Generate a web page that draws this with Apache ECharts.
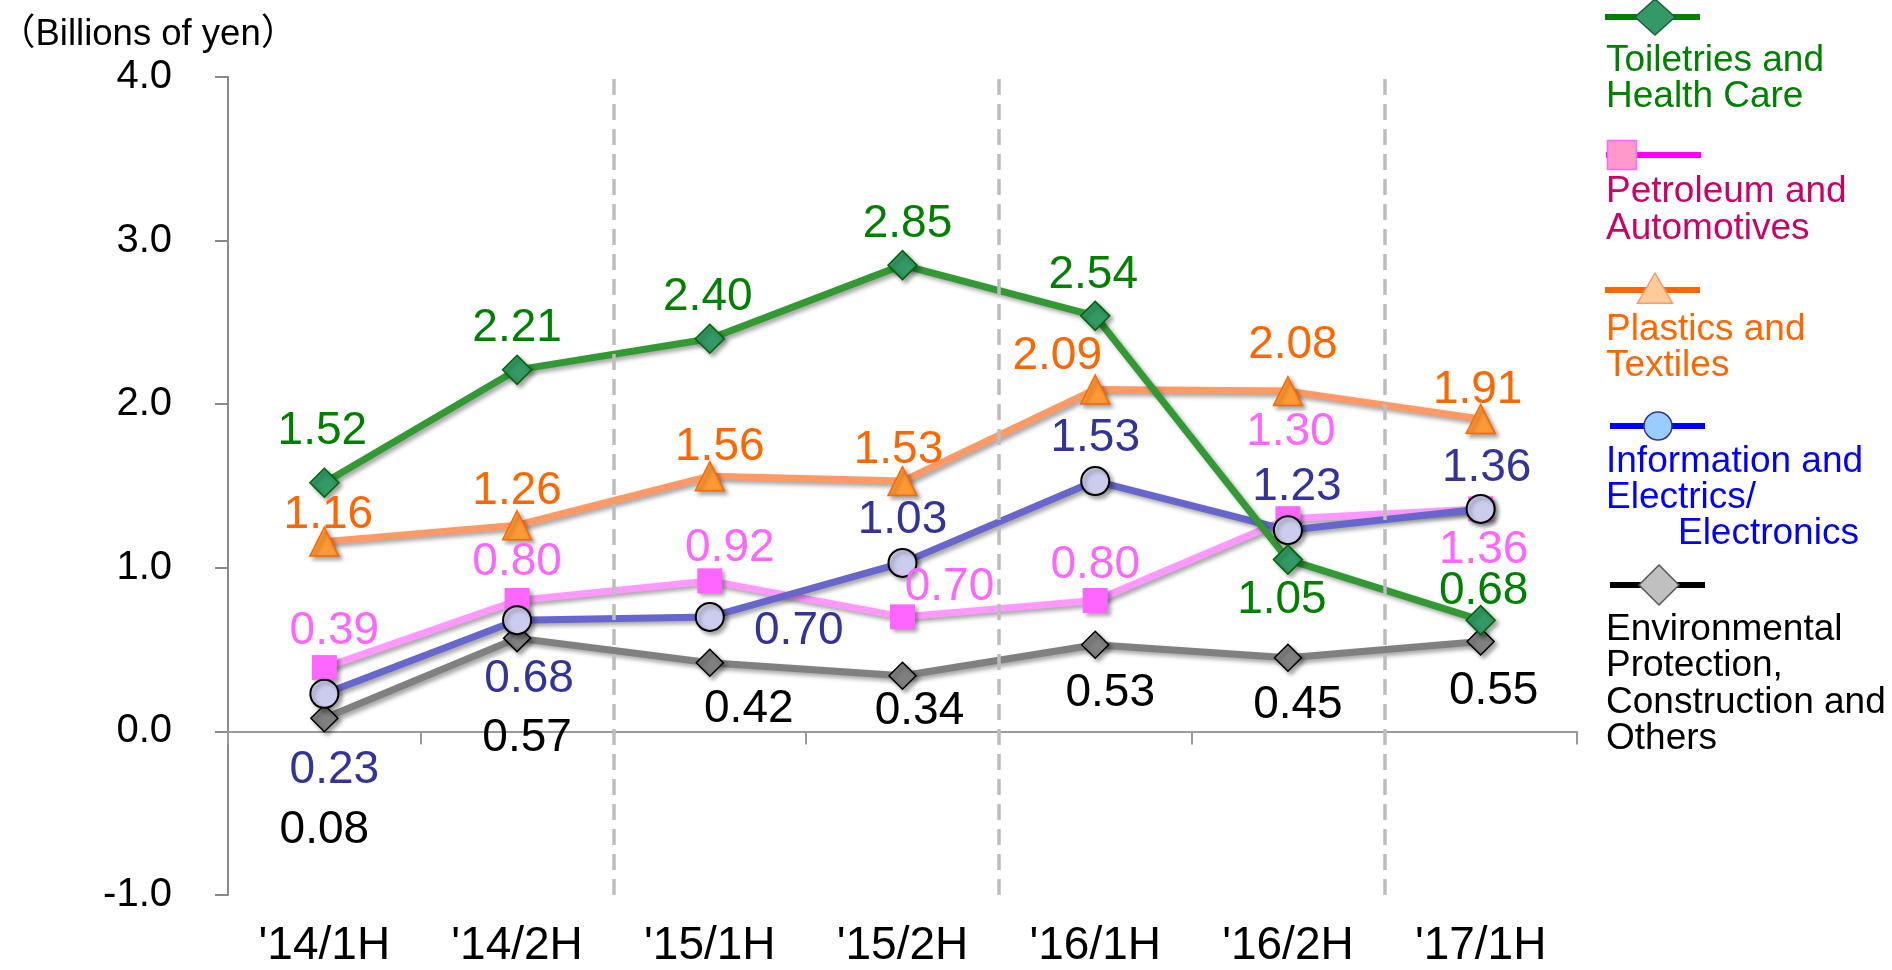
<!DOCTYPE html>
<html>
<head>
<meta charset="utf-8">
<script src="https://cdn.jsdelivr.net/npm/echarts@6/dist/echarts.min.js"></script>
<style>
html,body{margin:0;padding:0;background:#fff;}
#chart{width:1892px;height:970px;}
</style>
</head>
<body>
<div id="chart"></div>
<script>
// ---- data ----
const categories = ["'14/1H", "'14/2H", "'15/1H", "'15/2H", "'16/1H", "'16/2H", "'17/1H"];
const toiletries = [1.52, 2.21, 2.40, 2.85, 2.54, 1.05, 0.68];
const petroleum = [0.39, 0.80, 0.92, 0.70, 0.80, 1.30, 1.36];
const plastics = [1.16, 1.26, 1.56, 1.53, 2.09, 2.08, 1.91];
const information = [0.23, 0.68, 0.70, 1.03, 1.53, 1.23, 1.36];
const environmental = [0.08, 0.57, 0.42, 0.34, 0.53, 0.45, 0.55];
const yTicks = [-1, 0, 1, 2, 3, 4];
const yearBoundaries = [2, 4, 6]; // category boundaries where a new year starts
const seriesNames = [
  "Toiletries and\nHealth Care",
  "Petroleum and\nAutomotives",
  "Plastics and\nTextiles",
  "Information and\nElectrics/\n       Electronics",
  "Environmental\nProtection,\nConstruction and\nOthers"
];
const unitLabel = "（Billions of yen）";

// ---- label offsets (layout only) ----
const offToiletries = [[-2,-51],[0,-42],[-2,-41],[5,-41],[-2,-41],[-6,41],[3,-29]];
const offPetroleum = [[10,-36],[0,-38],[20,-33],[47,-30],[0,-35],[3,-86],[3,41]];
const offPlastics = [[4,-26],[0,-34],[10,-29],[-4,-31],[-38,-33],[5,-46],[-3,-29]];
const offInformation = [[10,77],[12,59],[89,14],[0,-43],[0,-43],[9,-43],[6,-41]];
const offEnvironmental = [[0,112],[10,100],[39,47],[17,36],[15,49],[10,48],[13,50]];

const FONT = "'Liberation Sans', Arial, 'Noto Sans CJK JP', sans-serif";
const shadow = {shadowColor:'rgba(0,0,0,0.35)', shadowBlur:4, shadowOffsetX:3, shadowOffsetY:3};

function mkData(vals, offs){
  return vals.map((v,i)=>({value:v, label:{offset:offs[i]}}));
}
function mkSeries(name, vals, offs, st){
  return {
    name: name, type:'line', xAxisIndex:0,
    data: mkData(vals, offs),
    symbol: st.symbol, symbolSize: st.size,
    lineStyle: Object.assign({color: st.line, width: 7}, shadow),
    itemStyle: Object.assign({color: st.fill, borderColor: st.border, borderWidth: st.bw}, shadow),
    label: {show:true, position:'inside', formatter: p=>p.value.toFixed(2),
            color: st.label, fontSize: 46, fontFamily: FONT},
    emphasis:{disabled:true},
    animation:false
  };
}

const styles = [
  {symbol:'diamond', size:[29,29], line:'#339933', fill:'#339966', border:'#006600', bw:1.5, label:'#008000'},
  {symbol:'rect', size:[25,25], line:'#FF99FF', fill:'#FF66FF', border:'#FF66FF', bw:0, label:'#FF66FF'},
  {symbol:'triangle', size:[29,29], line:'#FF9966', fill:'#FF9933', border:'#FF6600', bw:1.5, label:'#FF6600'},
  {symbol:'circle', size:[28,28], line:'#6666CC', fill:'#CCCCEE', border:'#000000', bw:2, label:'#333399'},
  {symbol:'diamond', size:[27,27], line:'#808080', fill:'#808080', border:'#000000', bw:1.5, label:'#000000'}
];

const series = [
  {
    name:'yearDividers', type:'line', xAxisIndex:2, data:[], silent:true, animation:false,
    markLine:{silent:true, symbol:['none','none'], label:{show:false}, animation:false,
      lineStyle:{color:'#BDBDBD', width:3.5, type:[16,9]},
      emphasis:{disabled:true},
      data: yearBoundaries.map(b=>({xAxis:b}))}
  },
  mkSeries(seriesNames[4], environmental, offEnvironmental, styles[4]),
  mkSeries(seriesNames[1], petroleum, offPetroleum, styles[1]),
  mkSeries(seriesNames[3], information, offInformation, styles[3]),
  mkSeries(seriesNames[2], plastics, offPlastics, styles[2]),
  mkSeries(seriesNames[0], toiletries, offToiletries, styles[0])
];

// ---- legend (graphic) ----
const legendLayout = [
  {lineY:17, x1:1605, x2:1700, sx:1655, textTop:42, lh:36, color:'#008000', textColor:'#008000',
   shape:'diamond', w:40, h:36, fill:'#339966', stroke:'#1F5F3F'},
  {lineY:155, x1:1606, x2:1701, sx:1622, textTop:173, lh:37, color:'#FF00FF', textColor:'#CC0066',
   shape:'rect', w:29, h:29, fill:'#FF99CC', stroke:'#FF66FF'},
  {lineY:290, x1:1605, x2:1700, sx:1655, textTop:311, lh:36, color:'#FF6600', textColor:'#FF6600',
   shape:'triangle', w:35, h:28, fill:'#FFCC99', stroke:'#FF9966'},
  {lineY:426, x1:1610, x2:1705, sx:1658, textTop:443, lh:36, color:'#0000FF', textColor:'#0000FF',
   shape:'circle', w:28, h:28, fill:'#99CCFF', stroke:'#333399'},
  {lineY:585, x1:1610, x2:1705, sx:1659, textTop:611, lh:36.5, color:'#000000', textColor:'#000000',
   shape:'diamond', w:40, h:40, fill:'#C0C0C0', stroke:'#555555'}
];
const graphics = [];
legendLayout.forEach((L, i)=>{
  graphics.push({type:'line', shape:{x1:L.x1, y1:L.lineY, x2:L.x2, y2:L.lineY},
    style:{stroke:L.color, lineWidth:6}, z:10});
  const cx = L.sx, cy = L.lineY;
  let el;
  if (L.shape==='diamond'){
    el = {type:'polygon', shape:{points:[[cx,cy-L.h/2],[cx+L.w/2,cy],[cx,cy+L.h/2],[cx-L.w/2,cy]]}};
  } else if (L.shape==='rect'){
    el = {type:'rect', shape:{x:cx-L.w/2, y:cy-L.h/2, width:L.w, height:L.h}};
  } else if (L.shape==='triangle'){
    el = {type:'polygon', shape:{points:[[cx,cy-L.h*0.6],[cx+L.w/2,cy+L.h*0.4+2],[cx-L.w/2,cy+L.h*0.4+2]]}};
  } else {
    el = {type:'circle', shape:{cx:cx, cy:cy, r:L.w/2}};
  }
  el.style = {fill:L.fill, stroke:L.stroke, lineWidth:1.5};
  el.z = 11;
  graphics.push(el);
  graphics.push({type:'text', left:1606, top:L.textTop, z:11,
    style:{text:seriesNames[i], fill:L.textColor, font:'37px ' + FONT, lineHeight:L.lh}});
});

const chart = echarts.init(document.getElementById('chart'));
chart.setOption({
  animation:false,
  backgroundColor:'#ffffff',
  title:{text:unitLabel, left:-6, top:12,
    textStyle:{fontSize:36.5, fontWeight:'normal', color:'#000', fontFamily:FONT}},
  grid:{left:228, right:315, top:77, bottom:75, containLabel:false},
  xAxis:[
    {type:'category', data:categories, position:'bottom', boundaryGap:true,
     axisLine:{onZero:true, lineStyle:{color:'#9A9A9A', width:2}},
     axisTick:{show:true, length:13, lineStyle:{color:'#9A9A9A', width:2}},
     axisLabel:{show:false}, splitLine:{show:false}},
    {type:'category', data:categories, position:'bottom', boundaryGap:true,
     axisLine:{show:false, onZero:false}, axisTick:{show:false},
     axisLabel:{show:true, margin:28, fontSize:46, color:'#000', fontFamily:FONT},
     splitLine:{show:false}},
    {type:'value', min:0, max:categories.length, show:false, position:'bottom',
     axisLine:{show:false, onZero:false}, splitLine:{show:false}}
  ],
  yAxis:{type:'value', min:yTicks[0], max:yTicks[yTicks.length-1], interval:1,
    axisLine:{show:true, lineStyle:{color:'#8A8A8A', width:2}},
    axisTick:{show:true, length:13, lineStyle:{color:'#8A8A8A', width:2}},
    axisLabel:{margin:56, fontSize:40, color:'#000', fontFamily:FONT, formatter:v=>v.toFixed(1)},
    splitLine:{show:false}},
  series: series,
  graphic: graphics
});
</script>
</body>
</html>
